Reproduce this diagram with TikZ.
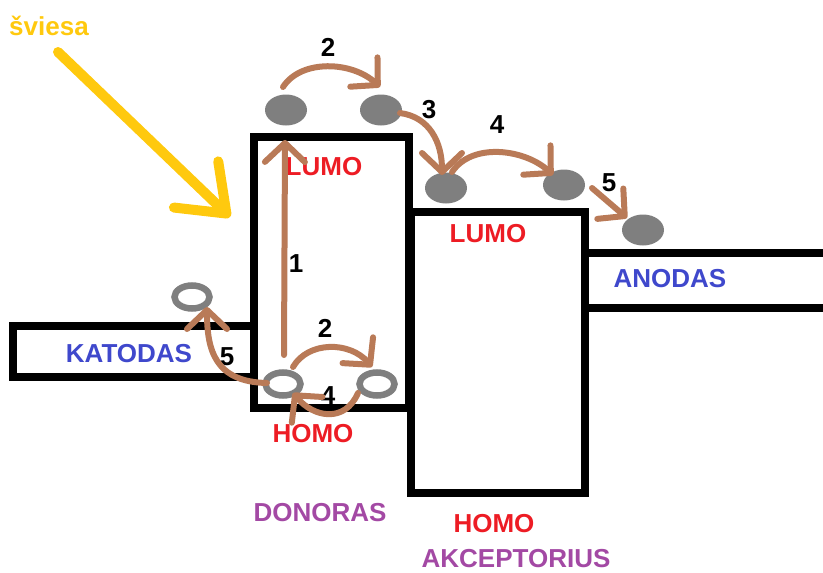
\documentclass[tikz,border=0pt]{standalone}
\usepackage{fontspec}
\setmainfont{Liberation Sans}
\usetikzlibrary{shapes.geometric,arrows.meta}
\definecolor{brn}{HTML}{B97A57}
\definecolor{egray}{HTML}{7F7F7F}
\definecolor{lyel}{HTML}{FFC90E}
\definecolor{lred}{HTML}{ED1C24}
\definecolor{lblue}{HTML}{3F48CC}
\definecolor{lpurp}{HTML}{A349A4}
\begin{document}
\begin{tikzpicture}[x=1pt,y=-1pt,
  txt/.style={font=\fontsize{26}{30}\selectfont\bfseries, inner sep=0pt, anchor=base},
  box/.style={draw=black, line width=8pt, line join=miter},
  elec/.style={ellipse, fill=egray, minimum width=42pt, minimum height=31pt, inner sep=0pt},
  hole/.style={ellipse, draw=egray, line width=6.5pt, minimum width=35pt, minimum height=23pt, inner sep=0pt},
  flow/.style={draw=brn, line width=6pt, line cap=round, -{Straight Barb[length=19pt,width=40pt,round]}},
  light/.style={draw=lyel, line width=10pt, line cap=round, -{Straight Barb[length=42pt,width=64pt,round]}},
]
\useasboundingbox (0,0) rectangle (823,573);
% electrodes and blocks
\draw[box] (254,326) -- (13,326) -- (13,377) -- (254,377);
\draw[box] (823,253) -- (585,253);
\draw[box] (585,308) -- (823,308);
\draw[box] (411,212) rectangle (585,493);
\draw[box] (254,137) rectangle (409,408);
% texts
\node[txt, text=lyel] (sviesa) at (49,35) {šviesa};
\node[txt, text=lred] (lumoD) at (324,175) {LUMO};
\node[txt, text=lred] (lumoA) at (488,242) {LUMO};
\node[txt, text=lblue] (anodas) at (670,287) {ANODAS};
\node[txt, text=lblue] (katodas) at (129,362) {KATODAS};
\node[txt, text=lred] (homoD) at (313,442) {HOMO};
\node[txt, text=lpurp] (donoras) at (320,521) {DONORAS};
\node[txt, text=lred] (homoA) at (494,532) {HOMO};
\node[txt, text=lpurp] (akcept) at (516,567) {AKCEPTORIUS};
\node[txt] (n1) at (296,272) {1};
\node[txt] (n2t) at (328,56) {2};
\node[txt] (n3) at (429,118) {3};
\node[txt] (n4t) at (497,133) {4};
\node[txt] (n5r) at (609,191) {5};
\node[txt] (n2b) at (325,337) {2};
\node[txt] (n4b) at (328,404) {4};
\node[txt] (n5b) at (227,365) {5};
% electrons and holes
\node[elec] (e1) at (286,110) {};
\node[elec] (e2) at (381,110) {};
\node[elec] (e3) at (446,188) {};
\node[elec] (e4) at (564,185) {};
\node[elec] (e5) at (643,230) {};
\node[hole] (h1) at (192,297) {};
\node[hole] (h2) at (283,384) {};
\node[hole] (h3) at (377,384) {};
% light
\coordinate (ls) at (58,52);
\coordinate (lt) at (230,217);
\draw[light] (ls) -- (lt);
% transfers
\draw[flow] ([shift={(1,-29)}]h2.center) -- ([shift={(-1,30)}]e1.center);
\draw[flow] ([shift={(-3,-23)}]e1.center) .. controls +(18,-28) and +(-28,-26) .. ([shift={(-1,-23)}]e2.center);
\draw[flow] ([shift={(19,3)}]e2.center) .. controls +(30,4) and +(0,-32) .. ([shift={(-4,-13)}]e3.center);
\draw[flow] ([shift={(6,-16)}]e3.center) .. controls +(20,-30) and +(-28,-26) .. ([shift={(-11,-10)}]e4.center);
\draw[flow] ([shift={(28,3)}]e4.center) -- ([shift={(-16,-12)}]e5.center);
\draw[flow] ([shift={(10,-17)}]h2.center) .. controls +(15,-26) and +(-22,-26) .. ([shift={(-5,-17)}]h3.center);
\draw[flow] ([shift={(-19,9)}]h3.center) .. controls +(-13,30) and +(21,25) .. ([shift={(10,9)}]h2.center);
\draw[flow] ([shift={(-16,-1)}]h2.center) .. controls +(-52,-1) and +(0,43) .. ([shift={(15,10)}]h1.center);
\end{tikzpicture}
\end{document}
